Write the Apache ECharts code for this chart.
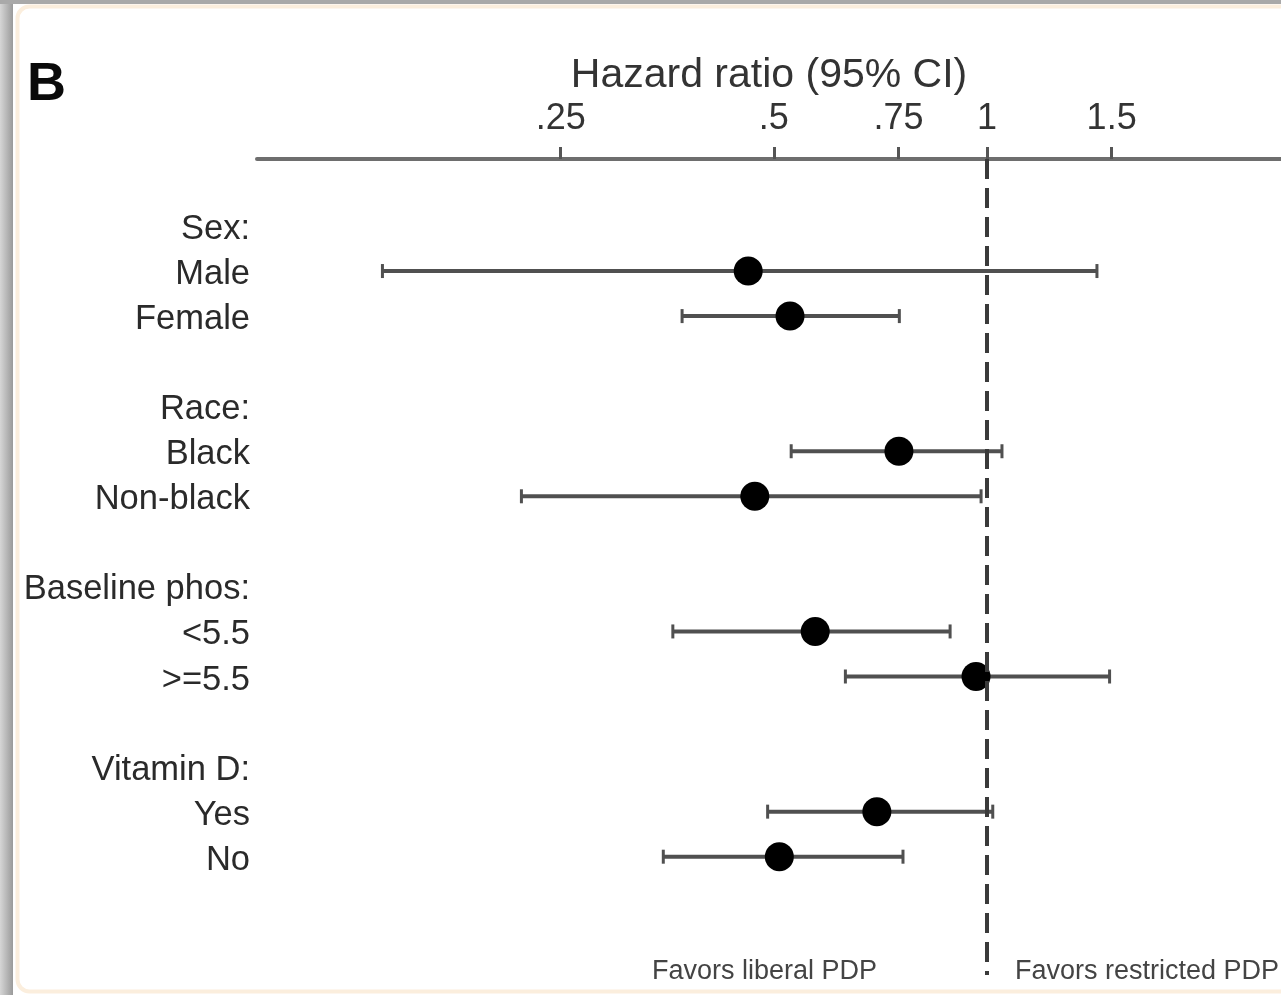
<!DOCTYPE html>
<html>
<head>
<meta charset="utf-8">
<title>Hazard ratio forest plot</title>
<script src="https://cdn.jsdelivr.net/npm/echarts@6/dist/echarts.min.js"></script>
<style>
  html, body { margin: 0; padding: 0; background: #fff; }
  #main { width: 1281px; height: 995px; }
</style>
</head>
<body>
<div id="main"></div>
<script>
// row labels, index = row position from top (blank = gap row)
const rowLabels = [
  'Sex:', 'Male', 'Female', '',
  'Race:', 'Black', 'Non-black', '',
  'Baseline phos:', '<5.5', '>=5.5', '',
  'Vitamin D:', 'Yes', 'No'
]
// subgroup rows that carry an estimate
const subgroupRows = [1, 2, 5, 6, 9, 10, 13, 14]
// hazard ratio point estimates and 95% CI
const hrPoint = [0.460, 0.527, 0.751, 0.470, 0.572, 0.965, 0.699, 0.509]
const ciLow = [0.140, 0.371, 0.529, 0.220, 0.360, 0.631, 0.490, 0.349]
const ciHigh = [1.430, 0.752, 1.050, 0.981, 0.887, 1.490, 1.019, 0.761]
// axis ticks
const tickValues = [0.25, 0.5, 0.75, 1, 1.5]
const tickLabels = ['.25', '.5', '.75', '1', '1.5']

const chartDom = document.getElementById('main')
const myChart = echarts.init(chartDom, null, { renderer: 'canvas' })

const font = '"Liberation Sans", Arial, Helvetica, sans-serif'
const labelRows = rowLabels.map((t, i) => i).filter(i => rowLabels[i] !== '')

const pointData = subgroupRows.map((r, i) => [hrPoint[i], r])
const ciData = subgroupRows.map((r, i) => [ciLow[i], ciHigh[i], r])

function tickText(v) {
  let best = 0
  tickValues.forEach((t, i) => {
    if (Math.abs(t - v) < Math.abs(tickValues[best] - v)) best = i
  })
  return tickLabels[best]
}

const option = {
  backgroundColor: '#fff',
  animation: false,
  title: {
    text: 'B',
    left: 22,
    top: 53,
    textStyle: { fontFamily: font, fontSize: 54, fontWeight: 'bold', color: '#0a0a0a' }
  },
  grid: {
    left: 257,
    right: 0,
    top: 159,
    bottom: 20,
    containLabel: false
  },
  xAxis: {
    type: 'log',
    logBase: Math.E,
    position: 'top',
    min: 0.0931,
    max: 2.602,
    name: 'Hazard ratio (95% CI)',
    nameLocation: 'middle',
    nameGap: 61,
    nameTextStyle: { fontFamily: font, fontSize: 41, color: '#333' },
    axisLine: { show: true, onZero: false, lineStyle: { color: '#6e6e6e', width: 4 } },
    axisTick: {
      show: true,
      customValues: tickValues,
      length: 12,
      lineStyle: { color: '#555', width: 3 }
    },
    axisLabel: {
      customValues: tickValues,
      margin: 22,
      formatter: v => tickText(v),
      fontFamily: font,
      fontSize: 36,
      color: '#333'
    },
    splitLine: { show: false }
  },
  yAxis: {
    type: 'value',
    inverse: true,
    min: -1.487,
    max: 16.626,
    axisLine: { show: false },
    axisTick: { show: false },
    splitLine: { show: false },
    axisLabel: {
      customValues: labelRows,
      margin: 7,
      formatter: v => '{r|' + rowLabels[Math.round(v)] + '}',
      rich: {
        r: {
          fontFamily: font,
          fontSize: 34.5,
          color: '#2a2a2a',
          padding: [7, 0, 0, 0]
        }
      }
    }
  },
  series: [
    {
      name: 'CI',
      type: 'custom',
      data: ciData,
      encode: { x: [0, 1], y: 2 },
      z: 2,
      renderItem(params, api) {
        const row = api.value(2)
        const a = api.coord([api.value(0), row])
        const b = api.coord([api.value(1), row])
        const cap = 7
        const capStyle = { stroke: '#505050', lineWidth: 3 }
        return {
          type: 'group',
          children: [
            { type: 'line', shape: { x1: a[0], y1: a[1], x2: b[0], y2: b[1] }, style: { stroke: '#505050', lineWidth: 4 } },
            { type: 'line', shape: { x1: a[0], y1: a[1] - cap, x2: a[0], y2: a[1] + cap }, style: capStyle },
            { type: 'line', shape: { x1: b[0], y1: b[1] - cap, x2: b[0], y2: b[1] + cap }, style: capStyle }
          ]
        }
      }
    },
    {
      name: 'HR',
      type: 'scatter',
      data: pointData,
      symbol: 'circle',
      symbolSize: 29,
      itemStyle: { color: '#000', opacity: 1 },
      z: 3,
      markLine: {
        silent: true,
        symbol: ['none', 'none'],
        label: { show: false },
        z: 4,
        lineStyle: { color: '#3a3a3a', width: 4, type: [20, 9], opacity: 1 },
        data: [{ xAxis: 1 }]
      }
    }
  ],
  graphic: [
    // page frame
    {
      type: 'rect',
      left: 0, top: 0,
      shape: { width: 13, height: 995 },
      style: {
        fill: new echarts.graphic.LinearGradient(0, 0, 1, 0, [
          { offset: 0, color: '#d6d6d6' },
          { offset: 1, color: '#9a9a9a' }
        ])
      },
      silent: true
    },
    {
      type: 'rect',
      left: 0, top: 0,
      shape: { width: 1281, height: 4 },
      style: { fill: '#a9a9a9' },
      silent: true
    },
    {
      type: 'rect',
      left: 15, top: 4,
      shape: { width: 1275, height: 985, r: 12 },
      style: { fill: 'none', stroke: '#fbeedd', lineWidth: 4 },
      silent: true
    },
    {
      type: 'text',
      left: 652,
      top: 958,
      style: { text: 'Favors liberal PDP', fontFamily: font, fontSize: 27, fill: '#444' }
    },
    {
      type: 'text',
      left: 1015,
      top: 958,
      style: { text: 'Favors restricted PDP', fontFamily: font, fontSize: 27, fill: '#444' }
    }
  ]
}

option && myChart.setOption(option)
</script>
</body>
</html>
